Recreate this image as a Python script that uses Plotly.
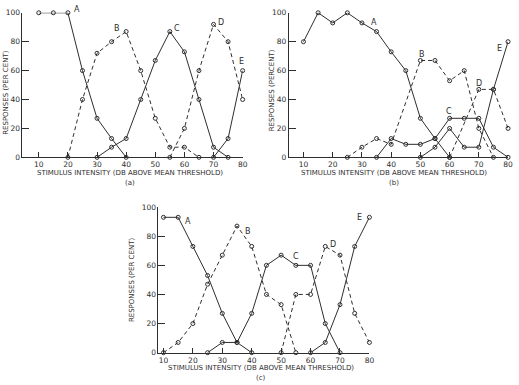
import plotly.graph_objects as go

# ---- Data (x in dB above mean threshold, y in per cent responses) ----
# Panel (a)
a_A_x = [10, 15, 20, 25, 30, 35, 40]
a_A_y = [100, 100, 100, 60, 27, 13, 0]
a_B_x = [20, 25, 30, 35, 40, 45, 50, 55, 60, 65]
a_B_y = [0, 40, 72, 80, 87, 60, 27, 7, 7, 0]
a_C_x = [30, 35, 40, 45, 50, 55, 60, 65, 70, 75]
a_C_y = [0, 7, 13, 40, 67, 87, 73, 40, 7, 0]
a_D_x = [55, 60, 65, 70, 75, 80]
a_D_y = [0, 20, 60, 92, 80, 40]
a_E_x = [70, 75, 80]
a_E_y = [0, 13, 60]

# Panel (b)
b_A_x = [10, 15, 20, 25, 30, 35, 40, 45, 50, 55, 60]
b_A_y = [80, 100, 93, 100, 93, 87, 73, 60, 27, 13, 0]
b_B_x = [25, 30, 35, 40, 50, 55, 60, 65, 70, 75]
b_B_y = [0, 7, 13, 9, 67, 67, 53, 60, 20, 0]
b_C_x = [35, 40, 45, 50, 55, 60, 65, 70, 75, 80]
b_C_y = [0, 13, 9, 9, 13, 27, 27, 27, 7, 0]
b_D_x = [60, 70, 75, 80]
b_D_y = [0, 47, 47, 20]
b_E_x = [50, 55, 60, 65, 70, 75, 80]
b_E_y = [0, 7, 20, 7, 7, 47, 80]

# Panel (c)
c_A_x = [10, 15, 20, 25, 30, 35, 40]
c_A_y = [93, 93, 73, 53, 27, 7, 0]
c_B_x = [10, 15, 20, 25, 30, 35, 40, 45, 50, 55]
c_B_y = [0, 7, 20, 47, 67, 87, 73, 40, 33, 0]
c_C_x = [25, 30, 35, 40, 45, 50, 55, 60, 65, 70]
c_C_y = [0, 7, 7, 27, 60, 67, 60, 60, 20, 0]
c_D_x = [50, 55, 60, 65, 70, 75, 80]
c_D_y = [0, 40, 40, 73, 67, 27, 7]
c_E_x = [60, 65, 70, 75, 80]
c_E_y = [0, 7, 33, 73, 93]

x_ticks = [10, 20, 30, 40, 50, 60, 70, 80]
y_ticks = [0, 20, 40, 60, 80, 100]

# curve label positions (letter, x, y) in data units
a_labels = [("A", 23, 102), ("B", 37, 89), ("C", 57.5, 89), ("D", 72.5, 93), ("E", 79.7, 66)]
b_labels = [("A", 34, 93), ("B", 50.7, 71), ("C", 59.7, 32), ("D", 70, 51), ("E", 77.2, 75)]
c_labels = [("A", 18.5, 90), ("B", 38.8, 83), ("C", 55, 66), ("D", 67.5, 74), ("E", 76.6, 93)]

INK = "#2e2e2e"
FONT = "DejaVu Sans"
W, H = 519, 385


def px_x(p):
    return p / W


def px_y(p):
    return 1 - p / H


# panel geometry: (x domain px, x range, y domain px (bottom, top), y range)
geo = {
    "a": dict(xd=(22.7, 245), xr=(4.4, 80), yd=(157, 9), yr=(0, 100)),
    "b": dict(xd=(291.7, 513), xr=(5, 80), yd=(157, 9), yr=(0, 100)),
    "c": dict(xd=(160, 373), xr=(8.3, 80), yd=(357, 208), yr=(0, 100)),
}

panels = [
    ("a", "x", "y", [(a_A_x, a_A_y, "solid"), (a_B_x, a_B_y, "dash"), (a_C_x, a_C_y, "solid"),
                     (a_D_x, a_D_y, "dash"), (a_E_x, a_E_y, "solid")], a_labels),
    ("b", "x2", "y2", [(b_A_x, b_A_y, "solid"), (b_B_x, b_B_y, "dash"), (b_C_x, b_C_y, "solid"),
                       (b_D_x, b_D_y, "dash"), (b_E_x, b_E_y, "solid")], b_labels),
    ("c", "x3", "y3", [(c_A_x, c_A_y, "solid"), (c_B_x, c_B_y, "dash"), (c_C_x, c_C_y, "solid"),
                       (c_D_x, c_D_y, "dash"), (c_E_x, c_E_y, "solid")], c_labels),
]

fig = go.Figure()
annotations = []
for key, xa, ya, series, labels in panels:
    g = geo[key]
    for xs, ys, dash in series:
        fig.add_trace(go.Scatter(
            x=xs, y=ys, xaxis=xa, yaxis=ya, mode="lines+markers", cliponaxis=False,
            line=dict(color=INK, width=1, dash="4px,3px" if dash == "dash" else "solid"),
            marker=dict(symbol="circle-open", size=4, color=INK, line=dict(width=1, color=INK)),
            showlegend=False, hoverinfo="skip"))
    for txt, lx, ly in labels:
        # convert label data position to page pixels then to paper fraction
        pxx = g["xd"][0] + (lx - g["xr"][0]) / (g["xr"][1] - g["xr"][0]) * (g["xd"][1] - g["xd"][0])
        pxy = g["yd"][0] + (ly - g["yr"][0]) / (g["yr"][1] - g["yr"][0]) * (g["yd"][1] - g["yd"][0])
        annotations.append(dict(text=txt, x=px_x(pxx), y=px_y(pxy), xref="paper", yref="paper",
                                showarrow=False, xanchor="center", yanchor="middle",
                                font=dict(family=FONT, size=8, color=INK)))

axis_common = dict(showline=True, linecolor=INK, linewidth=1, showgrid=False, zeroline=False,
                   ticks="inside", tickcolor=INK, tickwidth=1,
                   tickfont=dict(family=FONT, size=7.5, color=INK))


def xaxis(key, anchor):
    g = geo[key]
    return dict(domain=[px_x(g["xd"][0]), px_x(g["xd"][1])], range=list(g["xr"]), anchor=anchor,
                tickvals=x_ticks, ticklen=5, **axis_common)


def yaxis(key, anchor):
    g = geo[key]
    return dict(domain=[px_y(g["yd"][0]), px_y(g["yd"][1])], range=list(g["yr"]), anchor=anchor,
                tickvals=y_ticks, ticklen=7, **axis_common)


fig.update_layout(
    width=W, height=H, margin=dict(l=0, r=0, t=0, b=0),
    paper_bgcolor="white", plot_bgcolor="white",
    xaxis=xaxis("a", "y"), yaxis=yaxis("a", "x"),
    xaxis2=xaxis("b", "y2"), yaxis2=yaxis("b", "x2"),
    xaxis3=xaxis("c", "y3"), yaxis3=yaxis("c", "x3"),
)


def paper_text(text, cx, cy, size=7, angle=0):
    annotations.append(dict(text=text, x=px_x(cx), y=px_y(cy), xref="paper", yref="paper",
                            showarrow=False, textangle=angle, xanchor="center", yanchor="middle",
                            font=dict(family=FONT, size=size, color=INK)))


XT = "STIMULUS INTENSITY (DB ABOVE MEAN THRESHOLD)"
paper_text(XT, 131, 173)
paper_text("(a)", 131, 183.5)
paper_text(XT, 398, 173)
paper_text("(b)", 398, 183.5)
paper_text(XT, 264, 373)
paper_text("(c)", 264, 382.5)
paper_text("RESPONSES (PER CENT)", 6, 90, angle=-90)
paper_text("RESPONSES (PERCENT)", 275, 88, angle=-90)
paper_text("RESPONSES (PER CENT)", 134, 282, angle=-90)

fig.update_layout(annotations=annotations)
fig.write_html("out.html")
